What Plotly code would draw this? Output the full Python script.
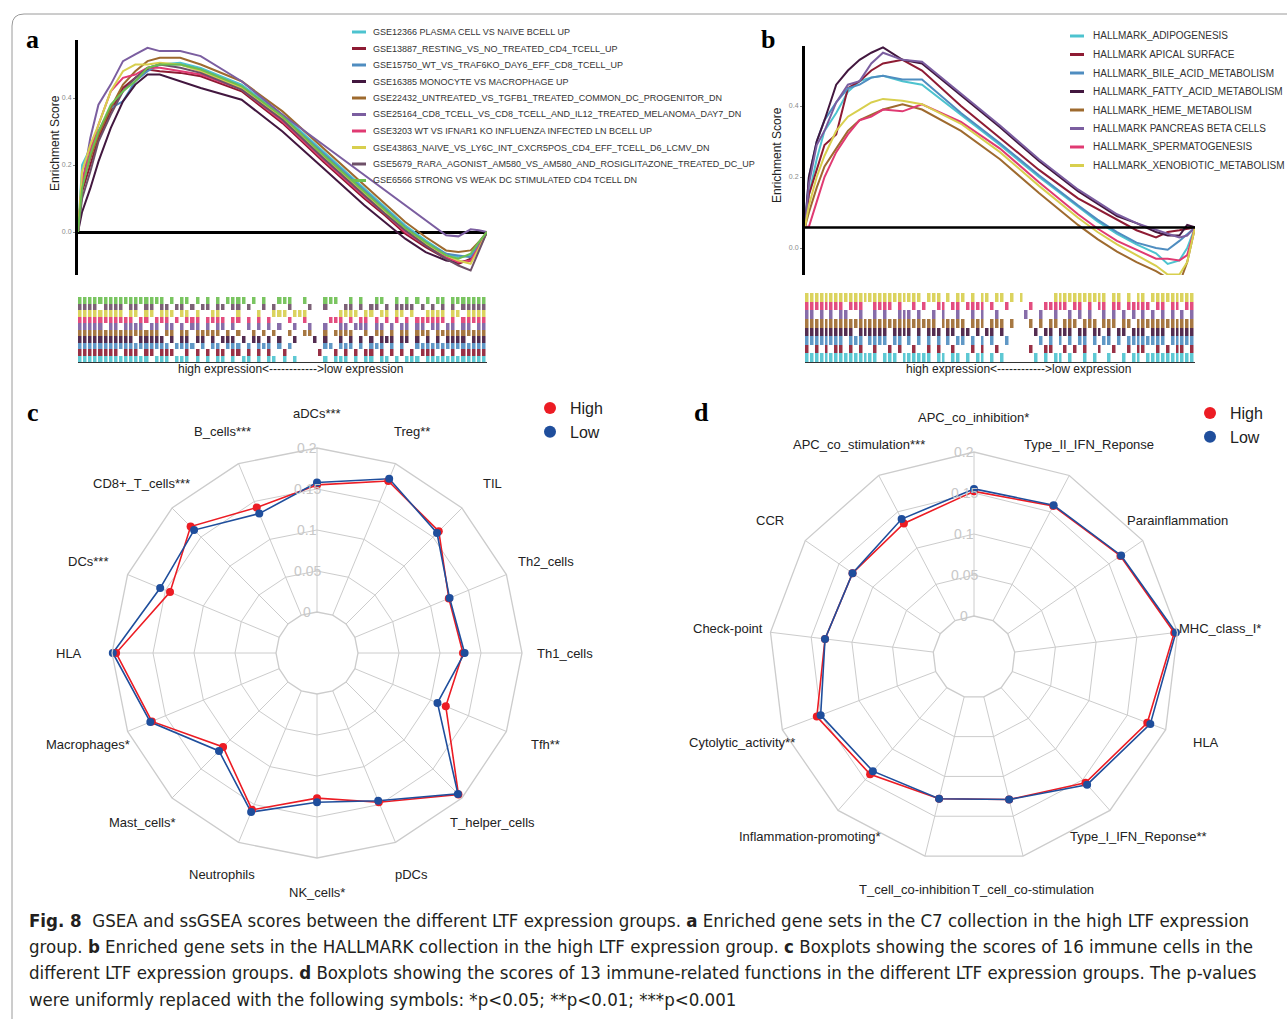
import math
import plotly.graph_objects as go

W, H = 1287, 1019
FONT = "Arial, Liberation Sans, sans-serif"


def px(x):
    return x / W


def py(y):
    return 1 - y / H


# ---------------- Panel a : GSEA C7 running enrichment scores ----------------
X_PCT = [0, 1, 3, 5, 8, 11, 14, 17, 20, 25, 30, 40, 50, 60, 70, 75, 80, 85, 90, 93, 96, 98, 100]

A_NAMES = [
    "GSE12366 PLASMA CELL VS NAIVE BCELL UP",
    "GSE13887_RESTING_VS_NO_TREATED_CD4_TCELL_UP",
    "GSE15750_WT_VS_TRAF6KO_DAY6_EFF_CD8_TCELL_UP",
    "GSE16385 MONOCYTE VS MACROPHAGE UP",
    "GSE22432_UNTREATED_VS_TGFB1_TREATED_COMMON_DC_PROGENITOR_DN",
    "GSE25164_CD8_TCELL_VS_CD8_TCELL_AND_IL12_TREATED_MELANOMA_DAY7_DN",
    "GSE3203 WT VS IFNAR1 KO INFLUENZA INFECTED LN BCELL UP",
    "GSE43863_NAIVE_VS_LY6C_INT_CXCR5POS_CD4_EFF_TCELL_D6_LCMV_DN",
    "GSE5679_RARA_AGONIST_AM580_VS_AM580_AND_ROSIGLITAZONE_TREATED_DC_UP",
    "GSE6566 STRONG VS WEAK DC STIMULATED CD4 TCELL DN",
]
A_COLORS = ["#4DC3CF", "#8E1B33", "#4F8DC0", "#42173F", "#9E6A2E",
            "#7B5EA0", "#E03A72", "#D8CF4E", "#6E5068", "#6CBF50"]

A_GSE12366 = [0, 0.20, 0.25, 0.30, 0.37, 0.42, 0.46, 0.49, 0.50, 0.505, 0.49, 0.44, 0.35, 0.24, 0.13, 0.075, 0.02, -0.025, -0.065, -0.075, -0.07, -0.035, 0]
A_GSE13887 = [0, 0.12, 0.20, 0.28, 0.36, 0.43, 0.46, 0.485, 0.48, 0.475, 0.465, 0.42, 0.325, 0.21, 0.10, 0.05, -0.005, -0.045, -0.08, -0.095, -0.08, -0.04, 0]
A_GSE15750 = [0, 0.15, 0.22, 0.30, 0.37, 0.39, 0.45, 0.48, 0.50, 0.50, 0.485, 0.435, 0.345, 0.235, 0.125, 0.07, 0.015, -0.03, -0.065, -0.07, -0.075, -0.04, 0]
A_GSE16385 = [0, 0.06, 0.13, 0.21, 0.31, 0.39, 0.44, 0.47, 0.47, 0.45, 0.43, 0.395, 0.30, 0.19, 0.08, 0.03, -0.02, -0.06, -0.085, -0.09, -0.085, -0.05, 0]
A_GSE22432 = [0, 0.14, 0.22, 0.29, 0.37, 0.44, 0.48, 0.51, 0.52, 0.52, 0.50, 0.45, 0.36, 0.25, 0.14, 0.085, 0.03, -0.015, -0.055, -0.06, -0.055, -0.03, 0]
A_GSE25164 = [0, 0.14, 0.28, 0.38, 0.44, 0.51, 0.53, 0.55, 0.54, 0.54, 0.525, 0.45, 0.35, 0.26, 0.17, 0.125, 0.08, 0.035, -0.01, -0.013, 0.008, 0.005, 0]
A_GSE3203 = [0, 0.15, 0.24, 0.32, 0.42, 0.46, 0.47, 0.49, 0.49, 0.48, 0.47, 0.425, 0.33, 0.215, 0.105, 0.055, 0.0, -0.04, -0.075, -0.09, -0.085, -0.045, 0]
A_GSE43863 = [0, 0.18, 0.26, 0.32, 0.42, 0.48, 0.50, 0.50, 0.505, 0.50, 0.48, 0.43, 0.34, 0.225, 0.115, 0.06, 0.01, -0.035, -0.07, -0.085, -0.095, -0.05, 0]
A_GSE5679 = [0, 0.10, 0.18, 0.27, 0.35, 0.42, 0.46, 0.49, 0.50, 0.49, 0.475, 0.425, 0.335, 0.22, 0.11, 0.055, 0.005, -0.04, -0.08, -0.10, -0.115, -0.06, 0]
A_GSE6566 = [0, 0.13, 0.23, 0.30, 0.38, 0.42, 0.45, 0.49, 0.50, 0.50, 0.485, 0.435, 0.345, 0.23, 0.12, 0.065, 0.012, -0.03, -0.07, -0.08, -0.065, -0.03, 0]
A_SERIES = [A_GSE12366, A_GSE13887, A_GSE15750, A_GSE16385, A_GSE22432,
            A_GSE25164, A_GSE3203, A_GSE43863, A_GSE5679, A_GSE6566]

# hit barcodes (bottom row = first gene set), 80 rank bins each
RUG_A = [
    "1111111111 1111011101 1101010110 1011010110 1010000010 1110101101 1010111011 1111111111",
    "1111111101 1101101110 0101010110 1101010100 1000000100 1010101101 0101010111 0101011111",
    "1111111111 1111111101 1110101101 1101011101 0100000011 0111010111 0101001111 1111111111",
    "1111111111 1011111010 1101101011 1010110101 0010001010 0101010101 1101101010 1011110111",
    "1111111111 1111110110 1101111101 0100101010 0100110010 1111001011 0101101110 1111111111",
    "1111101101 1110110110 1011010110 1001010101 0010010010 0110111011 0101101101 1011011011",
    "1111111111 1011011101 0111011110 1101010100 0100100001 1101011010 1010101111 1101011111",
    "1111111110 1101101110 1101001100 0100010011 1011100000 0111101101 1011010011 1101101111",
    "1111011110 1101101101 1010110110 1101001010 0100010010 0011010110 1011110101 0101011111",
    "1111111111 1111111010 1101010101 1110101001 1100100011 1001010011 0010101010 1101111111",
]

# ---------------- Panel b : GSEA HALLMARK running enrichment scores ----------------
B_NAMES = [
    "HALLMARK_ADIPOGENESIS",
    "HALLMARK APICAL SURFACE",
    "HALLMARK_BILE_ACID_METABOLISM",
    "HALLMARK_FATTY_ACID_METABOLISM",
    "HALLMARK_HEME_METABOLISM",
    "HALLMARK PANCREAS BETA CELLS",
    "HALLMARK_SPERMATOGENESIS",
    "HALLMARK_XENOBIOTIC_METABOLISM",
]
B_COLORS = ["#4DC3CF", "#8E1B33", "#4F8DC0", "#42173F",
            "#9E6A2E", "#7B5EA0", "#E03A72", "#D8CF4E"]
B_BASELINE = 0.058

B_ADIPOGENESIS = [0.06, 0.15, 0.25, 0.33, 0.38, 0.44, 0.47, 0.48, 0.485, 0.47, 0.46, 0.375, 0.29, 0.20, 0.115, 0.075, 0.04, 0.01, -0.015, -0.045, -0.035, 0.0, 0.058]
B_APICAL = [0.06, 0.15, 0.22, 0.29, 0.32, 0.45, 0.47, 0.50, 0.52, 0.53, 0.50, 0.40, 0.31, 0.22, 0.14, 0.11, 0.08, 0.05, 0.03, 0.045, 0.05, 0.055, 0.058]
B_BILE = [0.06, 0.20, 0.30, 0.36, 0.41, 0.45, 0.46, 0.48, 0.485, 0.475, 0.475, 0.38, 0.295, 0.205, 0.12, 0.08, 0.045, 0.015, 0.0, -0.005, 0.02, 0.04, 0.058]
B_FATTY = [0.06, 0.20, 0.30, 0.36, 0.46, 0.50, 0.53, 0.55, 0.565, 0.53, 0.52, 0.43, 0.34, 0.245, 0.16, 0.125, 0.09, 0.07, 0.045, 0.035, 0.035, 0.065, 0.058]
B_HEME = [0.06, 0.10, 0.17, 0.23, 0.28, 0.33, 0.36, 0.375, 0.39, 0.405, 0.39, 0.33, 0.25, 0.155, 0.065, 0.025, -0.01, -0.04, -0.065, -0.085, -0.10, -0.04, 0.058]
B_PANCREAS = [0.06, 0.18, 0.29, 0.33, 0.41, 0.46, 0.47, 0.52, 0.55, 0.53, 0.525, 0.435, 0.345, 0.25, 0.165, 0.13, 0.095, 0.07, 0.05, 0.04, 0.03, 0.035, 0.058]
B_SPERMATO = [0.06, 0.06, 0.13, 0.20, 0.27, 0.32, 0.36, 0.37, 0.39, 0.385, 0.405, 0.355, 0.28, 0.185, 0.095, 0.055, 0.02, -0.005, -0.03, -0.03, -0.035, -0.02, 0.058]
B_XENO = [0.06, 0.12, 0.20, 0.26, 0.33, 0.37, 0.39, 0.41, 0.42, 0.415, 0.405, 0.35, 0.27, 0.175, 0.085, 0.045, 0.01, -0.02, -0.05, -0.075, -0.075, -0.04, 0.058]
B_SERIES = [B_ADIPOGENESIS, B_APICAL, B_BILE, B_FATTY, B_HEME, B_PANCREAS, B_SPERMATO, B_XENO]

RUG_B = [
    "1111111111 1111101110 1111110110 1101011010 1000000101 0110100101 0010010110 1111111111",
    "1010101101 0100100101 0010010100 1000101001 0000001001 1001010100 1001001011 0010101101",
    "1111111101 1101111011 0101010101 0110101010 0100000010 1010101101 0110101111 1111011111",
    "1111111111 0111111011 1101011101 1011010110 1000000101 1011101101 1010110111 0111011111",
    "1111111111 1111111111 1111111011 1110111011 1010001010 1101110111 0111011011 1111111111",
    "1101010110 0100101001 1101001010 0100101001 0000010010 0100101010 0101010101 0101010101",
    "1111111101 1100111101 0010100110 1101111010 0100001001 1111011010 1101101111 1011011011",
    "1111111111 1111111111 1111011101 0110101101 1010100000 0111111111 1101101011 0111111111",
]

# ---------------- Panel c : ssGSEA immune cells ----------------
C_CATS = ["aDCs***", "Treg**", "TIL", "Th2_cells", "Th1_cells", "Tfh**", "T_helper_cells",
          "pDCs", "NK_cells*", "Neutrophils", "Mast_cells*", "Macrophages*", "HLA",
          "DCs***", "CD8+_T_cells***", "B_cells***"]
C_HIGH = [0.155, 0.177, 0.160, 0.124, 0.128, 0.120, 0.194, 0.147, 0.127, 0.157, 0.112, 0.168, 0.195, 0.144, 0.168, 0.142]
C_LOW = [0.158, 0.180, 0.157, 0.125, 0.130, 0.109, 0.193, 0.145, 0.132, 0.160, 0.119, 0.170, 0.199, 0.157, 0.162, 0.134]

# ---------------- Panel d : ssGSEA immune functions ----------------
D_CATS = ["APC_co_inhibition*", "Type_II_IFN_Reponse", "Parainflammation", "MHC_class_I*", "HLA",
          "Type_I_IFN_Reponse**", "T_cell_co-stimulation", "T_cell_co-inhibition",
          "Inflammation-promoting*", "Cytolytic_activity**", "Check-point", "CCR",
          "APC_co_stimulation***"]
D_HIGH = [0.152, 0.158, 0.167, 0.196, 0.176, 0.155, 0.129, 0.128, 0.141, 0.155, 0.133, 0.130, 0.134]
D_LOW = [0.155, 0.159, 0.168, 0.198, 0.180, 0.158, 0.129, 0.128, 0.136, 0.150, 0.133, 0.130, 0.140]

RADAR_TICKS = [0, 0.05, 0.1, 0.15, 0.2]
RADAR_TICKTEXT = ["0", "0.05", "0.1", "0.15", "0.2"]
HIGH_COLOR = "#EC1C24"
LOW_COLOR = "#1F4E9C"
GRID = "#cccccc"

CAPTION = [
    "<b>Fig. 8</b>  GSEA and ssGSEA scores between the different LTF expression groups. <b>a</b> Enriched gene sets in the C7 collection in the high LTF expression",
    "group. <b>b</b> Enriched gene sets in the HALLMARK collection in the high LTF expression group. <b>c</b> Boxplots showing the scores of 16 immune cells in the",
    "different LTF expression groups. <b>d</b> Boxplots showing the scores of 13 immune-related functions in the different LTF expression groups. The p-values",
    "were uniformly replaced with the following symbols: *p&lt;0.05; **p&lt;0.01; ***p&lt;0.001",
]

# ============================================================================
fig = go.Figure()
annotations = []
shapes = []


def rug_trace(rows, colors, xa, ya):
    n = len(rows)
    clean = [r.replace(" ", "") for r in rows]
    ncol = len(clean[0])
    z = [[(i if ch == "1" else None) for ch in row] for i, row in enumerate(clean)]
    xs = [(c + 0.5) * 100.0 / ncol for c in range(ncol)]
    cs = []
    for k, col in enumerate(colors):
        cs.append([k / n, col])
        cs.append([(k + 1) / n, col])
    return go.Heatmap(z=z, x=xs, y=list(range(n)), zmin=-0.5, zmax=n - 0.5,
                      colorscale=cs, showscale=False, xgap=1.5, ygap=0, opacity=0.9,
                      hoverinfo="skip", xaxis=xa, yaxis=ya)


# panel a curves + rug
for name, col, ys in zip(A_NAMES, A_COLORS, A_SERIES):
    fig.add_trace(go.Scatter(x=X_PCT, y=ys, mode="lines", name=name,
                             line=dict(color=col, width=2), showlegend=False,
                             xaxis="x", yaxis="y"))
fig.add_trace(rug_trace(RUG_A, A_COLORS, "x2", "y2"))

# panel b curves + rug
for name, col, ys in zip(B_NAMES, B_COLORS, B_SERIES):
    fig.add_trace(go.Scatter(x=X_PCT, y=ys, mode="lines", name=name,
                             line=dict(color=col, width=2), showlegend=False,
                             xaxis="x3", yaxis="y3"))
fig.add_trace(rug_trace(RUG_B, B_COLORS, "x4", "y4"))


# radar panels
def radar(cats, high, low, subplot, legend):
    for lab, vals, col in (("High", high, HIGH_COLOR), ("Low", low, LOW_COLOR)):
        fig.add_trace(go.Scatterpolar(r=vals + vals[:1], theta=cats + cats[:1], mode="lines",
                                      line=dict(color=col, width=1.6), showlegend=False,
                                      subplot=subplot, hoverinfo="skip"))
    for lab, vals, col in (("High", high, HIGH_COLOR), ("Low", low, LOW_COLOR)):
        fig.add_trace(go.Scatterpolar(r=vals, theta=cats, mode="markers", name=lab,
                                      marker=dict(color=col, size=8), subplot=subplot,
                                      legend=legend))


radar(C_CATS, C_HIGH, C_LOW, "polar", "legend")
radar(D_CATS, D_HIGH, D_LOW, "polar2", "legend2")

HOLE = 0.2


def polar_layout(cx, cy, R, cats):
    return dict(
        domain=dict(x=[px(cx - R), px(cx + R)], y=[py(cy + R), py(cy - R)]),
        hole=HOLE,
        gridshape="linear",
        bgcolor="white",
        radialaxis=dict(range=[RADAR_TICKS[0], RADAR_TICKS[-1]], tickvals=RADAR_TICKS,
                        showticklabels=False, angle=90, showline=False, ticks="",
                        gridcolor=GRID, gridwidth=1.3),
        angularaxis=dict(direction="clockwise", rotation=90, showticklabels=False,
                         ticks="", gridcolor=GRID, gridwidth=1.3,
                         linecolor=GRID, linewidth=1.3,
                         categoryorder="array", categoryarray=cats),
    )


C_CX, C_CY, C_R = 317, 653, 205
D_CX, D_CY, D_R = 974, 657, 205


def radar_labels(cats, cx, cy, R):
    n = len(cats)
    for i, lab in enumerate(cats):
        th = math.radians(90 - 360.0 * i / n)
        x = cx + (1.17 * R + 8) * math.cos(th)
        y = cy - 1.17 * R * math.sin(th)
        annotations.append(dict(x=px(x), y=py(y), xref="paper", yref="paper", text=lab,
                                showarrow=False, xanchor="center", yanchor="middle",
                                font=dict(family=FONT, size=13, color="#222222")))
    # radial scale labels along the top spoke
    lo, hi = RADAR_TICKS[0], RADAR_TICKS[-1]
    for v, t in zip(RADAR_TICKS, RADAR_TICKTEXT):
        rad = R * (HOLE + (1 - HOLE) * (v - lo) / (hi - lo))
        annotations.append(dict(x=px(cx - 10), y=py(cy - rad), xref="paper", yref="paper",
                                text=t, showarrow=False, xanchor="center", yanchor="middle",
                                font=dict(family=FONT, size=14, color="#c8c8c8")))


radar_labels(C_CATS, C_CX, C_CY, C_R)
radar_labels(D_CATS, D_CX, D_CY, D_R)


# manual legends for the GSEA panels
def gsea_legend(names, colors, x_line, x_text, y0, dy, size):
    for i, (nm, col) in enumerate(zip(names, colors)):
        yy = y0 + dy * i
        shapes.append(dict(type="line", xref="paper", yref="paper",
                           x0=px(x_line), x1=px(x_line + 14), y0=py(yy), y1=py(yy),
                           line=dict(color=col, width=3)))
        annotations.append(dict(x=px(x_text), y=py(yy), xref="paper", yref="paper", text=nm,
                                showarrow=False, xanchor="left", yanchor="middle",
                                font=dict(family=FONT, size=size, color="#333333")))


gsea_legend(A_NAMES, A_COLORS, 352, 371, 32, 16.5, 9)
gsea_legend(B_NAMES, B_COLORS, 1070, 1091, 36, 18.5, 10)

# baseline in panel b
shapes.append(dict(type="line", xref="x3", yref="y3", x0=0, x1=100, y0=B_BASELINE, y1=B_BASELINE,
                   line=dict(color="black", width=2.5)))

# border of figure box (rounded top-left corner)
shapes.append(dict(type="path", xref="paper", yref="paper",
                   path="M {a} {b} L {a} {c} Q {a} {d} {e} {d} L {f} {d}".format(
                       a=px(12), b=py(1030), c=py(26), d=py(14), e=px(24), f=px(1300)),
                   line=dict(color="#9a9a9a", width=1)))

# texts
for lab, x, y in (("a", 32, 40), ("b", 768, 40), ("c", 33, 413), ("d", 701, 413)):
    annotations.append(dict(x=px(x), y=py(y), xref="paper", yref="paper", text="<b>%s</b>" % lab,
                            showarrow=False, xanchor="center", yanchor="middle",
                            font=dict(family="Liberation Serif, Times New Roman, serif", size=26,
                                      color="black")))
for x, y in ((55, 143), (777, 155)):
    annotations.append(dict(x=px(x), y=py(y), xref="paper", yref="paper", text="Enrichment Score",
                            showarrow=False, textangle=-90, xanchor="center", yanchor="middle",
                            font=dict(family=FONT, size=12, color="#222222")))
for x, y in ((290, 369), (1018, 369)):
    annotations.append(dict(x=px(x), y=py(y), xref="paper", yref="paper",
                            text="high expression&lt;------------&gt;low expression",
                            showarrow=False, xanchor="center", yanchor="middle",
                            font=dict(family=FONT, size=12, color="#222222")))
for i, line in enumerate(CAPTION):
    annotations.append(dict(x=px(27), y=py(920 + 26.4 * i), xref="paper", yref="paper", text=line,
                            showarrow=False, xanchor="left", yanchor="middle", align="left",
                            font=dict(family="Liberation Sans Narrow, DejaVu Sans Condensed, Arial Narrow, sans-serif",
                                      size=18.5, color="#231f20")))

# axes
A_YPX = 0.2 / 67.0
B_YPX = 0.2 / 71.0
tickfont_small = dict(family=FONT, size=7, color="#8a8a8a")
B_TOP = 46

layout_axes = dict(
    xaxis=dict(domain=[px(78), px(487)], range=[0, 100], visible=False),
    yaxis=dict(domain=[py(275), py(40)], range=[-(275 - 232) * A_YPX, (232 - 40) * A_YPX],
               showline=True, linecolor="black", linewidth=3, showgrid=False,
               zeroline=True, zerolinecolor="black", zerolinewidth=2.5,
               tickvals=[0, 0.2, 0.4], ticktext=["0.0", "0.2", "0.4"], ticks="outside",
               ticklen=2, tickcolor="#8a8a8a", tickfont=tickfont_small, anchor="x"),
    xaxis2=dict(domain=[px(78), px(487)], range=[0, 100], showline=True, linecolor="#333333",
                linewidth=1, showticklabels=False, ticks="", showgrid=False, zeroline=False,
                anchor="y2"),
    yaxis2=dict(domain=[py(362), py(297)], range=[-0.5, 9.5], visible=False, anchor="x2"),
    xaxis3=dict(domain=[px(805), px(1195)], range=[0, 100], visible=False, anchor="y3"),
    yaxis3=dict(domain=[py(275), py(B_TOP)], range=[-(275 - 248) * B_YPX, (248 - B_TOP) * B_YPX],
                showline=True, linecolor="black", linewidth=3, showgrid=False, zeroline=False,
                tickvals=[0, 0.2, 0.4], ticktext=["0.0", "0.2", "0.4"], ticks="outside",
                ticklen=2, tickcolor="#8a8a8a", tickfont=tickfont_small, anchor="x3"),
    xaxis4=dict(domain=[px(805), px(1195)], range=[0, 100], showline=True, linecolor="#333333",
                linewidth=1, showticklabels=False, ticks="", showgrid=False, zeroline=False,
                anchor="y4"),
    yaxis4=dict(domain=[py(362), py(293)], range=[-0.5, 7.5], visible=False, anchor="x4"),
)

fig.update_layout(
    width=W, height=H, autosize=False,
    margin=dict(l=0, r=0, t=0, b=0),
    paper_bgcolor="white", plot_bgcolor="white",
    font=dict(family=FONT, color="#222222"),
    polar=polar_layout(C_CX, C_CY, C_R, C_CATS),
    polar2=polar_layout(D_CX, D_CY, D_R, D_CATS),
    legend=dict(x=px(530), y=py(391), xanchor="left", yanchor="top",
                font=dict(family=FONT, size=16, color="#222222"),
                bgcolor="rgba(0,0,0,0)", itemsizing="constant", tracegroupgap=0),
    legend2=dict(x=px(1190), y=py(396), xanchor="left", yanchor="top",
                 font=dict(family=FONT, size=16, color="#222222"),
                 bgcolor="rgba(0,0,0,0)", itemsizing="constant", tracegroupgap=0),
    annotations=annotations,
    shapes=shapes,
    **layout_axes,
)

fig.write_html("out.html", config={"displayModeBar": False},
               post_script="document.body.style.margin='0';document.body.style.overflow='hidden';")
